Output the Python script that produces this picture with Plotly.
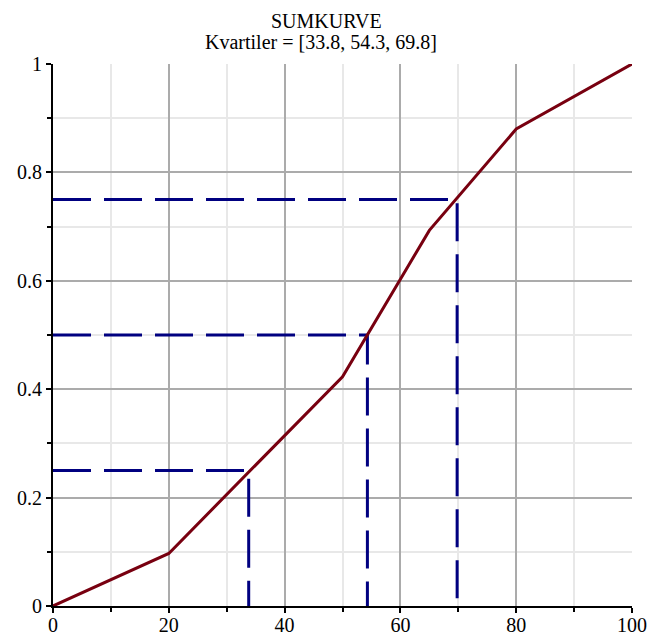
import plotly.graph_objects as go

# Data
x_vals = [0, 20, 50, 65, 80, 100]
cum_freq = [0, 0.097, 0.423, 0.693, 0.88, 1.0]
quartile_levels = [0.25, 0.5, 0.75]
quartiles = [33.8, 54.3, 69.8]
title_line1 = "SUMKURVE"
title_line2 = "Kvartiler = [33.8, 54.3, 69.8]"

W, H = 648, 635
ML, MR, MT, MB = 53, 16, 64, 29
PW, PH = W - ML - MR, H - MT - MB

fig = go.Figure()

for q, lvl in zip(quartiles, quartile_levels):
    fig.add_trace(go.Scatter(
        x=[0, q, q], y=[lvl, lvl, 0], mode="lines",
        line=dict(color="#000080", width=3, dash="38px,13px"),
        showlegend=False, hoverinfo="skip"))

fig.add_trace(go.Scatter(
    x=x_vals, y=cum_freq, mode="lines",
    line=dict(color="#780010", width=3),
    showlegend=False))

serif = "'Liberation Serif', 'Times New Roman', Times, serif"
font = dict(family=serif, size=20, color="black")


def px_to_paper(px_x, px_y):
    return (px_x - ML) / PW, 1 + (MT - px_y) / PH


x1, y1 = px_to_paper(326, 21)
x2, y2 = px_to_paper(321, 42)

fig.update_layout(
    width=W, height=H,
    margin=dict(l=ML, r=MR, t=MT, b=MB, autoexpand=False),
    plot_bgcolor="white", paper_bgcolor="white",
    font=font,
    annotations=[
        dict(text=title_line1, x=x1, y=y1, xref="paper", yref="paper",
             xanchor="center", yanchor="middle", showarrow=False, font=font),
        dict(text=title_line2, x=x2, y=y2, xref="paper", yref="paper",
             xanchor="center", yanchor="middle", showarrow=False, font=font),
    ],
)

fig.update_xaxes(
    range=[0, 100], tickvals=[0, 20, 40, 60, 80, 100],
    showline=True, linecolor="black", linewidth=2,
    ticks="outside", ticklen=5, tickwidth=2, tickcolor="black",
    showgrid=True, gridcolor="#ababab", gridwidth=2, zeroline=False,
    minor=dict(dtick=10, ticks="outside", ticklen=4, tickwidth=2, tickcolor="black",
               showgrid=True, gridcolor="#e8e8e8", gridwidth=2),
    tickfont=font, ticklabeloverflow="allow", ticklabelstandoff=-5,
)
fig.update_yaxes(
    range=[0, 1], tickvals=[0, 0.2, 0.4, 0.6, 0.8, 1], ticktext=["0", "0.2", "0.4", "0.6", "0.8", "1"],
    showline=True, linecolor="black", linewidth=2,
    ticks="outside", ticklen=5, tickwidth=2, tickcolor="black",
    showgrid=True, gridcolor="#ababab", gridwidth=2, zeroline=False,
    minor=dict(dtick=0.1, ticks="outside", ticklen=4, tickwidth=2, tickcolor="black",
               showgrid=True, gridcolor="#e8e8e8", gridwidth=2),
    tickfont=font, ticklabeloverflow="allow",
)

fig.write_html(
    "out.html",
    config={"displayModeBar": False},
    post_script="document.body.style.margin='0';document.body.style.overflow='hidden';",
)
